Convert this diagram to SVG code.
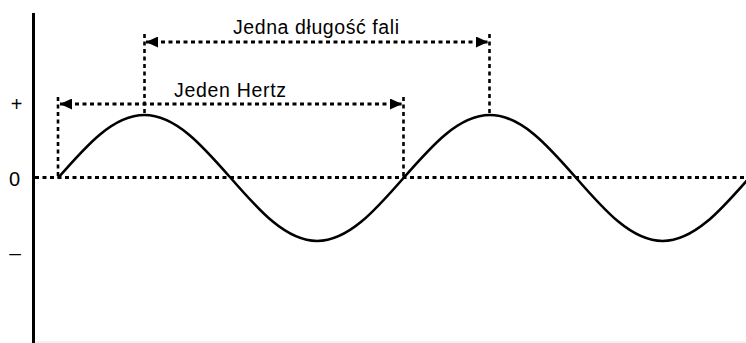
<svg xmlns="http://www.w3.org/2000/svg" width="746" height="343" viewBox="0 0 746 343">
  <style>
    .lbl { font-family: "Liberation Sans", Arial, sans-serif; fill: #000; }
    .dot { stroke: #000; stroke-width: 2.8; stroke-dasharray: 4 3.5; fill: none; }
    .vdot { stroke: #000; stroke-width: 2.6; stroke-dasharray: 4 3.5; fill: none; }
    .wave { stroke: #000; stroke-width: 2.6; fill: none; }
  </style>
  <defs>
    <marker id="arr" viewBox="0 0 12 11" refX="12" refY="5.5" markerWidth="12" markerHeight="11" markerUnits="userSpaceOnUse" orient="auto-start-reverse">
      <path d="M0,0 L12,5.5 L0,11 Z" fill="#000"/>
    </marker>
  </defs>
  <rect width="746" height="343" fill="#fff"/>

  <g id="axes">
    <line x1="33.5" y1="13" x2="33.5" y2="343" stroke="#000" stroke-width="3"/>
    <line x1="35" y1="342" x2="746" y2="342" stroke="#e6e6e6" stroke-width="1"/>
    <line class="dot" x1="35" y1="177.5" x2="746" y2="177.5"/>
    <text class="lbl" x="16.5" y="111" font-size="20" text-anchor="middle">+</text>
    <text class="lbl" x="14.5" y="185.5" font-size="20" text-anchor="middle">0</text>
    <text class="lbl" x="15" y="260" font-size="21" text-anchor="middle">–</text>
  </g>

  <g id="wave">
    <path class="wave" d="M58,178 C86.17,145.73 113.11,115 144.38,115 C175.64,115 202.58,145.73 230.75,178 C258.92,210.27 285.86,241 317.13,241 C348.39,241 375.33,210.27 403.5,178 C431.67,145.73 458.61,115 489.88,115 C521.14,115 548.08,145.73 576.25,178 C604.42,210.27 631.36,241 662.63,241 C693.89,241 720.83,210.27 749,178"/>
  </g>

  <g id="connectors">
    <line class="vdot" x1="58" y1="97" x2="58" y2="178"/>
    <line class="vdot" x1="403.5" y1="97" x2="403.5" y2="178"/>
    <line class="vdot" x1="144.5" y1="34" x2="144.5" y2="115"/>
    <line class="vdot" x1="489.5" y1="34" x2="489.5" y2="115"/>
    <line class="dot" x1="60" y1="104" x2="402" y2="104" marker-start="url(#arr)" marker-end="url(#arr)"/>
    <line class="dot" x1="146" y1="42" x2="488" y2="42" marker-start="url(#arr)" marker-end="url(#arr)"/>
  </g>

  <g id="label-hertz">
    <text class="lbl" x="174" y="97" font-size="19.5" textLength="112" lengthAdjust="spacing">Jeden Hertz</text>
  </g>
  <g id="label-wavelength">
    <text class="lbl" x="233" y="34" font-size="19.5" textLength="166" lengthAdjust="spacing">Jedna długość fali</text>
  </g>
</svg>
